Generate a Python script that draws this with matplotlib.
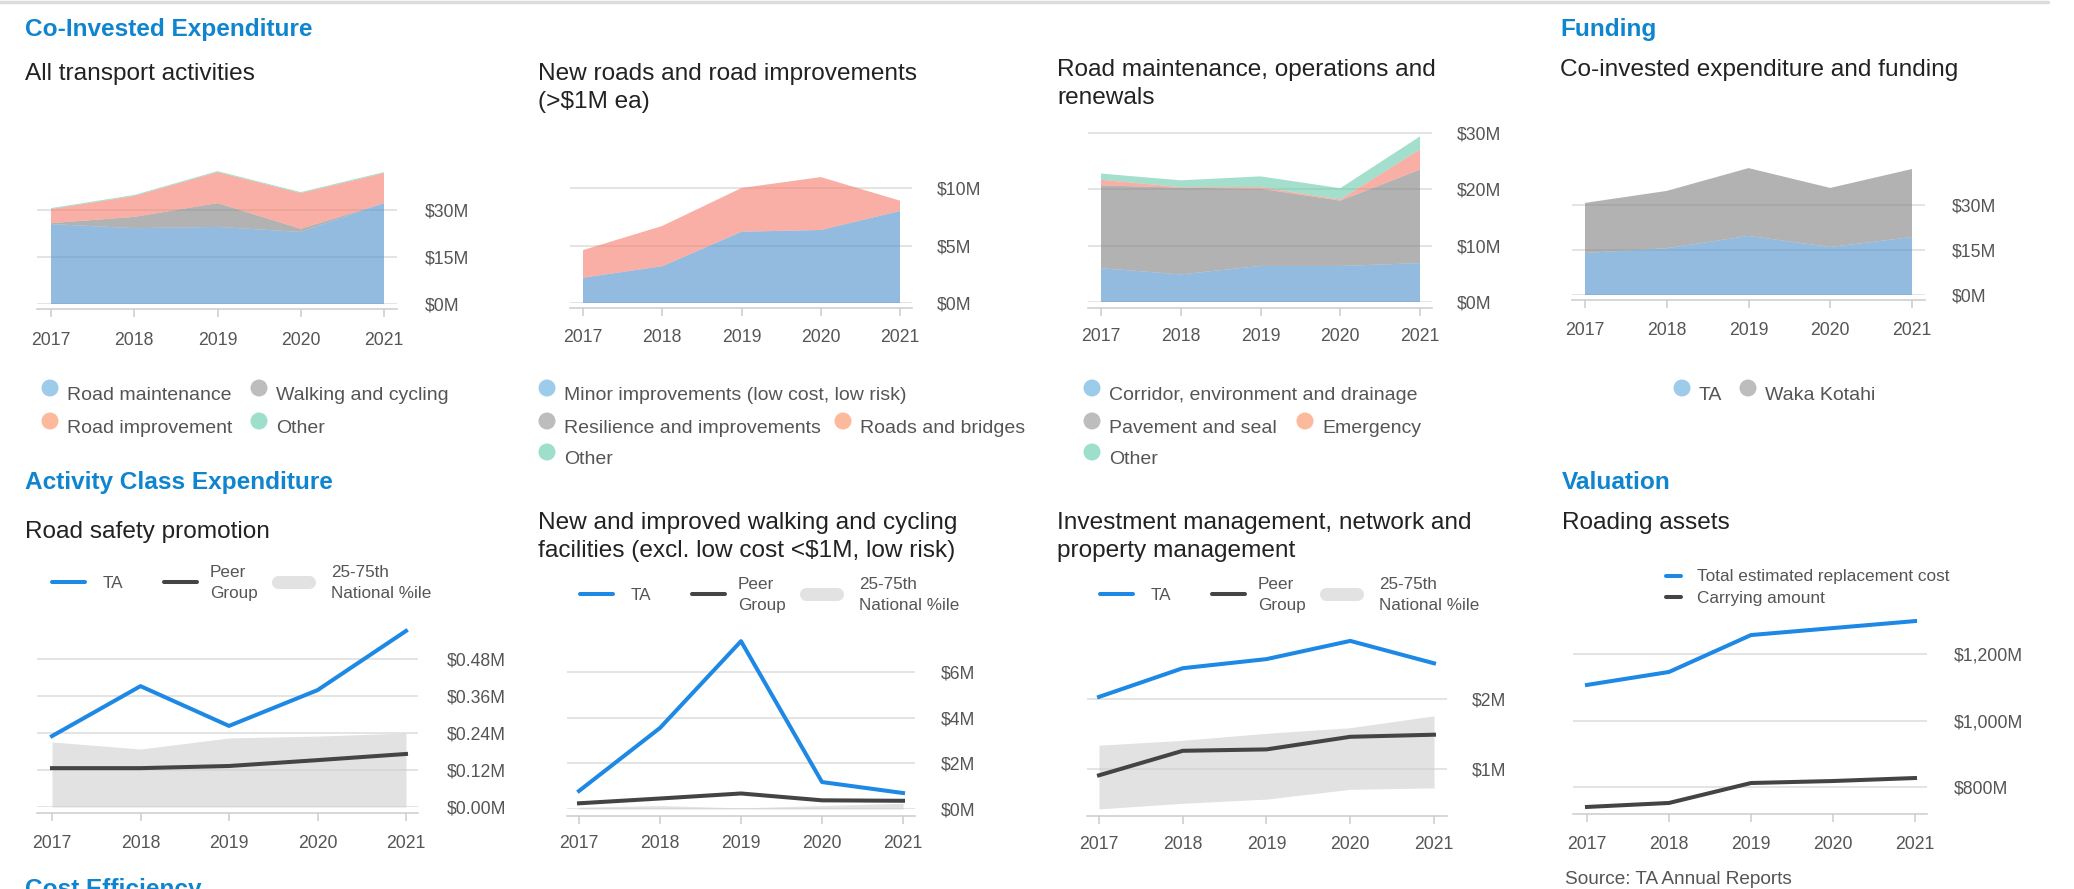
import matplotlib.pyplot as plt
from matplotlib.patches import Circle

plt.rcParams['font.family'] = ['Liberation Sans', 'DejaVu Sans']

W, H = 2074, 889

years = [2017, 2018, 2019, 2020, 2021]

# Co-invested expenditure: all transport activities ($M)
road_maintenance = [25.5, 24.2, 24.6, 23.0, 32.2]
walking_cycling = [0.3, 3.6, 7.6, 1.0, 0.0]
road_improvement = [4.5, 6.7, 9.9, 11.4, 9.6]
transport_other = [0.3, 0.3, 0.3, 0.3, 0.3]

# New roads and road improvements ($M)
minor_improvements = [2.2, 3.2, 6.2, 6.35, 8.0]
resilience = [0.0, 0.0, 0.0, 0.0, 0.0]
roads_bridges = [2.4, 3.5, 3.8, 4.6, 0.9]
new_roads_other = [0.0, 0.0, 0.0, 0.0, 0.0]

# Road maintenance, operations and renewals ($M)
corridor = [6.0, 4.9, 6.4, 6.4, 6.9]
pavement = [14.7, 15.4, 13.7, 11.6, 16.6]
emergency = [1.0, 0.1, 0.3, 0.2, 3.6]
maint_other = [1.1, 1.2, 1.9, 2.0, 2.3]

# Funding ($M)
funding_ta = [14.0, 15.6, 19.7, 16.0, 19.3]
funding_waka = [16.7, 19.1, 22.6, 19.7, 22.7]

# Road safety promotion ($M)
safety_ta = [0.230, 0.392, 0.263, 0.379, 0.571]
safety_peer = [0.126, 0.126, 0.133, 0.152, 0.172]
safety_p25 = [0.0, 0.0, 0.0, 0.0, 0.0]
safety_p75 = [0.211, 0.188, 0.224, 0.230, 0.240]

# Walking and cycling facilities ($M)
walk_ta = [0.79, 3.55, 7.35, 1.18, 0.70]
walk_peer = [0.25, 0.46, 0.68, 0.38, 0.36]
walk_p25 = [0.0, 0.0, 0.0, 0.0, 0.0]
walk_p75 = [0.08, 0.15, 0.05, 0.15, 0.25]

# Investment management ($M)
invest_ta = [2.03, 2.44, 2.57, 2.83, 2.51]
invest_peer = [0.91, 1.26, 1.28, 1.46, 1.49]
invest_p25 = [0.43, 0.51, 0.57, 0.71, 0.73]
invest_p75 = [1.34, 1.41, 1.51, 1.59, 1.76]

# Roading assets ($M)
replacement_cost = [1107, 1146, 1257, 1278, 1299]
carrying_amount = [740, 752, 812, 818, 827]

HEAD = '#0f84cf'
TITLE = '#222222'
GREY_TXT = '#555555'
TA_LINE = '#1e88e5'
PEER_LINE = '#444444'
A_BLUE, A_GREY, A_RED, A_GREEN = '#4b8fcb', '#808080', '#f57b69', '#66cbaa'
L_BLUE, L_GREY, L_RED, L_GREEN = '#9dcbea', '#bdbdbd', '#fdb99b', '#9ddfcb'

fig = plt.figure(figsize=(W / 100, H / 100), dpi=100)

ov = fig.add_axes([0, 0, 1, 1])
ov.set_xlim(0, W)
ov.set_ylim(H, 0)
ov.axis('off')


def panel(gl, gr, top, bottom, x17, x21, v_lo, p_lo, v_hi, p_hi):
    ppy = (x21 - x17) / (years[-1] - years[0])
    ppv = (p_lo - p_hi) / (v_hi - v_lo)
    ax = fig.add_axes([gl / W, 1 - bottom / H, (gr - gl) / W, (bottom - top) / H])
    ax.set_xlim(years[0] - (x17 - gl) / ppy, years[-1] + (gr - x21) / ppy)
    ax.set_ylim(v_lo - (bottom - p_lo) / ppv, v_lo + (p_lo - top) / ppv)
    return ax


def style(ax, ticks, labels, ypad, xpad, offset):
    for s in ['top', 'left', 'right']:
        ax.spines[s].set_visible(False)
    ax.spines['bottom'].set_position(('outward', offset * 0.72))
    ax.spines['bottom'].set_color('#cccccc')
    ax.spines['bottom'].set_linewidth(1.1)
    ax.set_xticks(years)
    ax.set_xticklabels([str(y) for y in years])
    ax.tick_params(axis='x', length=5.8, width=1.1, color='#cccccc', pad=xpad * 0.72,
                   labelsize=12.7, labelcolor=GREY_TXT)
    ax.yaxis.tick_right()
    ax.set_yticks(ticks)
    ax.set_yticklabels(labels)
    ax.tick_params(axis='y', length=0, pad=ypad * 0.72, labelsize=12.7, labelcolor=GREY_TXT)
    ax.grid(axis='y', color='#dddddd', lw=1.1)
    ax.set_axisbelow(True)
    ax.patch.set_alpha(0)


def txt(x, y, s, size, color, weight='normal'):
    ov.text(x, y, s, fontsize=size, color=color, fontweight=weight, va='baseline', ha='left')


def dot_item(x, y, color, label):
    ov.add_patch(Circle((x, y), 8.5, color=color, lw=0))
    txt(x + 17, y + 12, label, 14, GREY_TXT)


def line_legend(x0, y):
    ov.plot([x0, x0 + 33], [y, y], color=TA_LINE, lw=2.9, solid_capstyle='round')
    txt(x0 + 51, y + 6, 'TA', 12.3, GREY_TXT)
    ov.plot([x0 + 112, x0 + 145], [y, y], color=PEER_LINE, lw=2.9, solid_capstyle='round')
    txt(x0 + 158, y - 5, 'Peer', 12.3, GREY_TXT)
    txt(x0 + 158, y + 16, 'Group', 12.3, GREY_TXT)
    ov.plot([x0 + 226, x0 + 257], [y, y], color='#e2e2e2', lw=9.4, solid_capstyle='round')
    txt(x0 + 279, y - 5, '25-75th', 12.3, GREY_TXT)
    txt(x0 + 279, y + 16, 'National %ile', 12.3, GREY_TXT)


# top border of the card
ov.plot([0, 2048], [1.5, 1.5], color='#dcdcdc', lw=2.5, solid_capstyle='round')

# headings and titles
txt(25, 36, 'Co-Invested Expenditure', 17.6, HEAD, 'bold')
txt(25, 80, 'All transport activities', 17.6, TITLE)
txt(538, 80, 'New roads and road improvements', 17.6, TITLE)
txt(538, 108, '(>$1M ea)', 17.6, TITLE)
txt(1057, 76, 'Road maintenance, operations and', 17.6, TITLE)
txt(1057, 104, 'renewals', 17.6, TITLE)
txt(1560, 36, 'Funding', 17.6, HEAD, 'bold')
txt(1560, 76, 'Co-invested expenditure and funding', 17.6, TITLE)
txt(25, 489, 'Activity Class Expenditure', 17.6, HEAD, 'bold')
txt(25, 538, 'Road safety promotion', 17.6, TITLE)
txt(538, 529, 'New and improved walking and cycling', 17.6, TITLE)
txt(538, 557, 'facilities (excl. low cost <$1M, low risk)', 17.6, TITLE)
txt(1057, 529, 'Investment management, network and', 17.6, TITLE)
txt(1057, 557, 'property management', 17.6, TITLE)
txt(1562, 489, 'Valuation', 17.6, HEAD, 'bold')
txt(1562, 529, 'Roading assets', 17.6, TITLE)
txt(25, 896, 'Cost Efficiency', 17.6, HEAD, 'bold')
txt(1565, 884, 'Source: TA Annual Reports', 13.7, GREY_TXT)

# area legends
dot_item(50, 388, L_BLUE, 'Road maintenance')
dot_item(259, 388, L_GREY, 'Walking and cycling')
dot_item(50, 421, L_RED, 'Road improvement')
dot_item(259, 421, L_GREEN, 'Other')

dot_item(547, 388, L_BLUE, 'Minor improvements (low cost, low risk)')
dot_item(547, 421, L_GREY, 'Resilience and improvements')
dot_item(843, 421, L_RED, 'Roads and bridges')
dot_item(547, 452, L_GREEN, 'Other')

dot_item(1092, 388, L_BLUE, 'Corridor, environment and drainage')
dot_item(1092, 421, L_GREY, 'Pavement and seal')
dot_item(1305, 421, L_RED, 'Emergency')
dot_item(1092, 452, L_GREEN, 'Other')

dot_item(1682, 388, L_BLUE, 'TA')
dot_item(1748, 388, L_GREY, 'Waka Kotahi')

# line legends
line_legend(52, 582)
line_legend(580, 594)
line_legend(1100, 594)
ov.plot([1666, 1681], [576, 576], color=TA_LINE, lw=2.9, solid_capstyle='round')
txt(1697, 581, 'Total estimated replacement cost', 12.4, GREY_TXT)
ov.plot([1666, 1681], [597, 597], color=PEER_LINE, lw=2.9, solid_capstyle='round')
txt(1697, 603, 'Carrying amount', 12.4, GREY_TXT)

# --- stacked area panels ---
ax1 = panel(37, 397, 160, 304, 51, 384, 0, 304, 30, 210)
ax1.stackplot(years, road_maintenance, walking_cycling, road_improvement, transport_other,
              colors=[A_BLUE, A_GREY, A_RED, A_GREEN], alpha=0.6, lw=0)
style(ax1, [0, 15, 30], ['$0M', '$15M', '$30M'], 28, 15, 5)

ax2 = panel(570, 912, 170, 303, 583, 900, 0, 303, 10, 188)
ax2.stackplot(years, minor_improvements, resilience, roads_bridges, new_roads_other,
              colors=[A_BLUE, A_GREY, A_RED, A_GREEN], alpha=0.6, lw=0)
style(ax2, [0, 5, 10], ['$0M', '$5M', '$10M'], 25, 13, 5)

ax3 = panel(1088, 1432, 125, 302, 1101, 1420, 0, 302, 30, 133)
ax3.stackplot(years, corridor, pavement, emergency, maint_other,
              colors=[A_BLUE, A_GREY, A_RED, A_GREEN], alpha=0.6, lw=0)
style(ax3, [0, 10, 20, 30], ['$0M', '$10M', '$20M', '$30M'], 25, 12, 6)

ax4 = panel(1572, 1925, 160, 295, 1585, 1912, 0, 295, 30, 205)
ax4.stackplot(years, funding_ta, funding_waka, colors=[A_BLUE, A_GREY], alpha=0.6, lw=0)
style(ax4, [0, 15, 30], ['$0M', '$15M', '$30M'], 27, 14, 5)

# --- line panels ---
ax5 = panel(37, 418, 625, 807, 52, 406, 0, 807, 0.48, 659)
ax5.fill_between(years, safety_p25, safety_p75, color='#cfcfcf', alpha=0.6, lw=0)
ax5.plot(years, safety_peer, color=PEER_LINE, lw=2.9, clip_on=False)
ax5.plot(years, safety_ta, color=TA_LINE, lw=2.9, clip_on=False)
style(ax5, [0, 0.12, 0.24, 0.36, 0.48], ['$0.00M', '$0.12M', '$0.24M', '$0.36M', '$0.48M'], 29, 14, 6)

ax6 = panel(567, 915, 630, 809, 579, 903, 0, 809, 6, 672)
ax6.fill_between(years, walk_p25, walk_p75, color='#cfcfcf', alpha=0.6, lw=0)
ax6.plot(years, walk_peer, color=PEER_LINE, lw=2.9, clip_on=False)
ax6.plot(years, walk_ta, color=TA_LINE, lw=2.9, clip_on=False)
style(ax6, [0, 2, 4, 6], ['$0M', '$2M', '$4M', '$6M'], 26, 11, 7)

ax7 = panel(1087, 1447, 630, 811, 1099, 1434, 1, 769, 2, 699)
ax7.fill_between(years, invest_p25, invest_p75, color='#cfcfcf', alpha=0.6, lw=0)
ax7.plot(years, invest_peer, color=PEER_LINE, lw=2.9, clip_on=False)
ax7.plot(years, invest_ta, color=TA_LINE, lw=2.9, clip_on=False)
style(ax7, [1, 2], ['$1M', '$2M'], 25, 12, 5)

ax8 = panel(1573, 1927, 610, 809, 1587, 1915, 800, 787, 1200, 654)
ax8.plot(years, carrying_amount, color=PEER_LINE, lw=2.9, clip_on=False)
ax8.plot(years, replacement_cost, color=TA_LINE, lw=2.9, clip_on=False)
style(ax8, [800, 1000, 1200], ['$800M', '$1,000M', '$1,200M'], 27, 14, 5)

fig.savefig('out.png', dpi=100)
